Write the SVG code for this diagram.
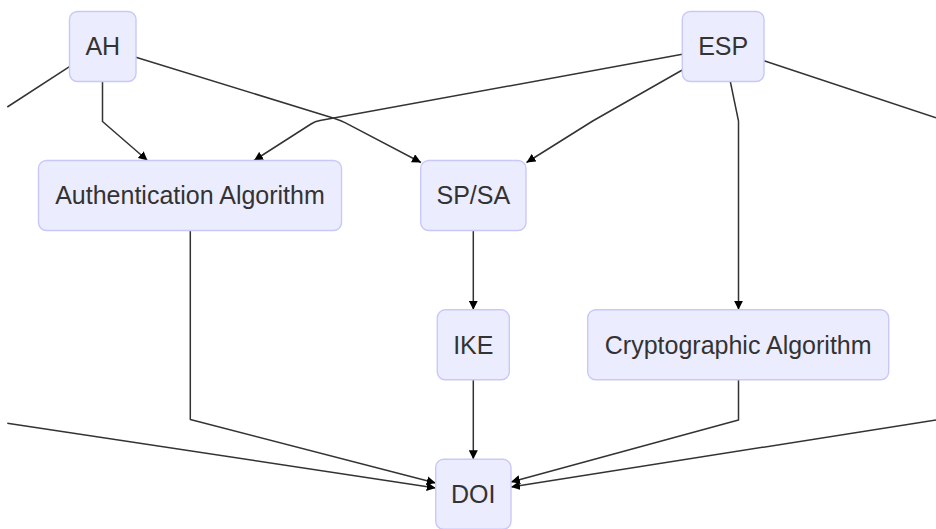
<svg xmlns="http://www.w3.org/2000/svg" width="936" height="529" viewBox="0 0 936 529">
  <style>
    .node rect { fill: #ECECFF; stroke: #C8C8FA; stroke-width: 1.4; }
    .node text { font-family: "Liberation Sans", Arial, sans-serif; font-size: 25px; fill: #333333; text-anchor: middle; }
    .edge { fill: none; stroke: #333333; stroke-width: 1.5; stroke-linejoin: round; }
    .arrow { marker-end: url(#arrowhead); }
  </style>
  <defs>
    <marker id="arrowhead" viewBox="0 0 10 10" refX="10" refY="5" markerUnits="userSpaceOnUse" markerWidth="9" markerHeight="9" orient="auto">
      <path d="M0,0 L10,5 L0,10 z" fill="#000000"/>
    </marker>
  </defs>
  <rect width="936" height="529" fill="#FFFFFF"/>

  <!-- connectors -->
  <g id="edges">
    <!-- edges leaving the visible area -->
    <path class="edge" d="M69.5,66.7 L7.3,107"/>
    <path class="edge" d="M764,60.7 L936,117.7"/>
    <path class="edge arrow" d="M7.3,423.3 L435.7,488"/>
    <path class="edge arrow" d="M936,420 L511,487"/>

    <!-- AH -->
    <path class="edge arrow" d="M102.5,81.5 L102.5,121.5 L147.5,160.5"/>
    <path class="edge arrow" d="M135.9,57.3 L333.9,118.2 Q339.6,120 345,122.7 L421,162.5"/>

    <!-- ESP -->
    <path class="edge arrow" d="M682.3,54.3 L320,120.6 Q315,121.5 311,124 L254,160.5"/>
    <path class="edge arrow" d="M682.3,70 L592.7,121 L526.5,162.5"/>
    <path class="edge arrow" d="M730.3,81.5 L738.5,121 L738.5,309.8"/>

    <!-- middle ranks -->
    <path class="edge arrow" d="M473.3,230.5 L473.3,309.8"/>
    <path class="edge arrow" d="M190.3,230.5 L190.3,419.5 L435.7,483"/>
    <path class="edge arrow" d="M473.3,379.8 L473.3,459.3"/>
    <path class="edge arrow" d="M738.5,379.8 L738.5,420 L511,482"/>
  </g>

  <!-- nodes -->
  <g id="AH" class="node">
    <rect x="69.5" y="11.5" width="66.5" height="70" rx="8" ry="8"/>
    <text x="102.75" y="46.5" dy="0.35em">AH</text>
  </g>
  <g id="ESP" class="node">
    <rect x="682.3" y="11.5" width="81.7" height="70" rx="8" ry="8"/>
    <text x="723.2" y="46.5" dy="0.35em">ESP</text>
  </g>
  <g id="AuthenticationAlgorithm" class="node">
    <rect x="38.5" y="160.5" width="303" height="70" rx="8" ry="8"/>
    <text x="190" y="195.5" dy="0.35em">Authentication Algorithm</text>
  </g>
  <g id="SPSA" class="node">
    <rect x="420.7" y="160.5" width="105.3" height="70" rx="8" ry="8"/>
    <text x="473.3" y="195.5" dy="0.35em">SP/SA</text>
  </g>
  <g id="IKE" class="node">
    <rect x="437.3" y="309.8" width="72" height="70" rx="8" ry="8"/>
    <text x="473.3" y="344.8" dy="0.35em">IKE</text>
  </g>
  <g id="CryptographicAlgorithm" class="node">
    <rect x="587.7" y="309.8" width="301" height="70" rx="8" ry="8"/>
    <text x="738.2" y="344.8" dy="0.35em">Cryptographic Algorithm</text>
  </g>
  <g id="DOI" class="node">
    <rect x="435.7" y="459.3" width="75.3" height="70" rx="8" ry="8"/>
    <text x="473.3" y="494.3" dy="0.35em">DOI</text>
  </g>
</svg>
